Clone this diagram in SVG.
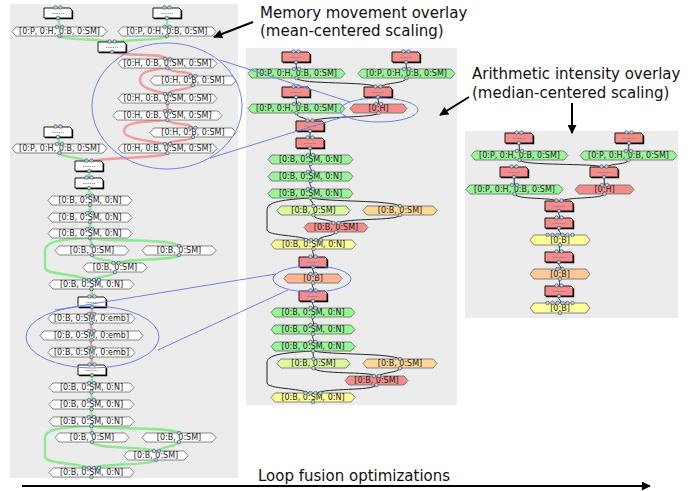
<svg xmlns="http://www.w3.org/2000/svg" xmlns:xlink="http://www.w3.org/1999/xlink" width="694" height="491" viewBox="0 0 694 491">
<style>
.panel{fill:#ececec}
.a{stroke:#6a6a6a;stroke-width:.8}
.w{fill:#fff}.g{fill:#98f598}.r{fill:#f48c8c}.y{fill:#ffff99}.lg{fill:#dcf9a0}.o{fill:#ffd796}.p{fill:#ffb496}.o2{fill:#ffc896}
.mw{fill:#fff;stroke:#000;stroke-width:.9}
.mr{fill:#f48c8c;stroke:#000;stroke-width:.9}
.t{font-family:"DejaVu Sans",sans-serif;font-size:8px;text-anchor:middle;fill:#222}
.lbl{font-family:"DejaVu Sans",sans-serif;font-size:15px;fill:#111}
.eg{fill:none;stroke:#8fe88f;stroke-width:2.4}
.es{fill:none;stroke:#f59a9a;stroke-width:2.4}
.ek{fill:none;stroke:#111;stroke-width:.9}
.bl{fill:none;stroke:#6f82e6;stroke-width:1}
.c{fill:#b9cad6;stroke:#34495e;stroke-width:.6}
.ar{fill:none;stroke:#000;stroke-width:2}
</style>
<defs>
<marker id="ah" viewBox="0 0 10 10" refX="9" refY="5" markerUnits="userSpaceOnUse" markerWidth="12" markerHeight="9" orient="auto"><path d="M0,0L10,5L0,10Z" fill="#000"/></marker>
<marker id="ah2" viewBox="0 0 10 10" refX="9" refY="5" markerUnits="userSpaceOnUse" markerWidth="15" markerHeight="9" orient="auto"><path d="M0,0L10,5L0,10Z" fill="#000"/></marker>
<g id="mp">
<path d="M0,0H26L28,2V10H0Z"/>
<path d="M1,10.6H28.6V2.5" fill="none" stroke="#000" stroke-width="1.2"/>
<path d="M8,5.5H20" stroke="#777" stroke-width=".7" stroke-dasharray="1.5 .7"/>
<circle class="c" cx="11.5" cy="-0.5" r="1.8"/>
<circle class="c" cx="16.5" cy="-0.5" r="1.8"/>
<circle class="c" cx="14" cy="10" r="1.8"/>
</g>
<g id="t2"><circle class="c" cx="-2.5" cy="0" r="1.8"/><circle class="c" cx="2.5" cy="0" r="1.8"/></g>
<g id="t4"><circle class="c" cx="-7.5" cy="0" r="1.8"/><circle class="c" cx="-2.5" cy="0" r="1.8"/><circle class="c" cx="2.5" cy="0" r="1.8"/><circle class="c" cx="7.5" cy="0" r="1.8"/></g>
<g id="t6"><circle class="c" cx="-12.5" cy="0" r="1.8"/><circle class="c" cx="-7.5" cy="0" r="1.8"/><circle class="c" cx="-2.5" cy="0" r="1.8"/><circle class="c" cx="2.5" cy="0" r="1.8"/><circle class="c" cx="7.5" cy="0" r="1.8"/><circle class="c" cx="12.5" cy="0" r="1.8"/></g>
<circle id="b1" class="c" r="1.8"/>
</defs>

<g id="panels">
<rect class="panel" x="10" y="4" width="228" height="474"/>
<rect class="panel" x="246" y="48" width="211" height="357"/>
<rect class="panel" x="465" y="131" width="213" height="187"/>
</g>

<g id="connectors">
<path class="eg" d="M58,18C58,22 60,23 59.5,27"/>
<path class="eg" d="M167,18C167,22 167,23 167,27"/>
<path class="eg" d="M59.5,36C64,41 100,38 110,42"/>
<path class="eg" d="M167,36C164,41 125,39 114,42"/>
<path class="es" d="M112,52C126,57 160,52 167.5,59"/>
<path class="es" d="M167.5,68C171,74 190,70 193,76"/>
<path class="es" d="M167.5,68C146,70 140,73 140,80C140,88 152,90 167.5,94"/>
<path class="es" d="M193,85C190,91 171,88 167.5,94"/>
<path class="es" d="M167.5,103V111"/>
<path class="es" d="M167.5,120C172,126 190,122 193,128"/>
<path class="es" d="M167.5,120C132,122 124,124 124,131C124,138 142,140 167.5,144"/>
<path class="es" d="M193,137C190,142 171,139 167.5,144"/>
<path class="eg" d="M58,137C58,140 60,141 59.5,144"/>
<path class="eg" d="M59.5,153C63,158 80,157 87,161"/>
<path class="es" d="M167.5,153C165,158 110,157 91,161"/>
<path class="eg" d="M89,171V178"/>
<path class="eg" d="M89,188C89,192 90,193 90,196"/>
<path class="eg" d="M90,205V213"/>
<path class="eg" d="M90,222V229"/>
<path class="eg" d="M90,238C90,242 92,242 92,246"/>
<path class="eg" d="M90,238C102,242 170,238 179,246"/>
<path class="eg" d="M90,238C58,239 46,242 45,250V268C46,275 80,274 89,280"/>
<path class="eg" d="M92,255C95,262 110,258 115,263"/>
<path class="eg" d="M179,255C177,261 125,258 117,263"/>
<path class="eg" d="M115,272C112,278 96,275 93,280"/>
<path class="eg" d="M91.5,289C91.5,293 92,293 92,297"/>
<path class="es" d="M92,307C92,310 91.5,311 91.5,314"/>
<path class="es" d="M91.5,323C89,327 93,328 91.5,331"/>
<path class="es" d="M91.5,340C89,344 93,345 91.5,348"/>
<path class="es" d="M91.5,357C91.5,361 92,361 92,365"/>
<path class="eg" d="M92,375C92,379 91.5,379 91.5,383"/>
<path class="eg" d="M91.5,392C89,396 94,397 91.5,400"/>
<path class="eg" d="M91.5,409C89,413 94,414 91.5,417"/>
<path class="eg" d="M91.5,426C91.5,430 92,430 92,433"/>
<path class="eg" d="M91.5,426C104,430 170,426 179,433"/>
<path class="eg" d="M91.5,426C58,427 46,430 45,437V457C46,464 80,463 89,468"/>
<path class="eg" d="M92,442C96,450 150,446 155,451"/>
<path class="eg" d="M179,442C177,447 162,446 158,451"/>
<path class="eg" d="M156,460C150,466 100,463 93,468"/>

<path class="ek" d="M296,62C296,65 296.5,66 296.5,69"/>
<path class="ek" d="M406,62C406,65 406.5,66 406.5,69"/>
<path class="ek" d="M296.5,78C300,85 370,81 376,87"/>
<path class="ek" d="M406.5,78C405,84 386,82 380,87"/>
<path class="ek" d="M296,97C296,100 296.5,101 296.5,104"/>
<path class="ek" d="M378,97C378,100 378.5,101 378.5,104"/>
<path class="ek" d="M296.5,113C298,119 304,116 308,121"/>
<path class="ek" d="M378.5,113C375,118 322,116 312,121"/>
<path class="ek" d="M310,131V138"/>
<path class="ek" d="M310,148C310,151 310.5,152 310.5,155"/>
<path class="ek" d="M310.5,164C308,168 313,169 310.5,172"/>
<path class="ek" d="M310.5,181C308,185 313,186 310.5,189"/>
<path class="ek" d="M310.5,198C310.5,202 313.5,202 313.5,206"/>
<path class="ek" d="M310.5,198C330,202 390,200 400,206"/>
<path class="ek" d="M310.5,198C276,200 267,203 267,210V230C268,236 300,235 309,240"/>
<path class="ek" d="M313.5,215C316,221 328,218 334,223"/>
<path class="ek" d="M400,215C398,221 346,218 338,223"/>
<path class="ek" d="M336,232C333,237 322,235 318,240"/>
<path class="ek" d="M313.5,249C311,253 315,254 313,257"/>
<path class="ek" d="M313,267C311,270 315,271 313,274"/>
<path class="ek" d="M313,283C311,287 315,288 313,291"/>
<path class="ek" d="M313,301C311,304 315,305 313,308"/>
<path class="ek" d="M313,317C311,321 315,322 313,325"/>
<path class="ek" d="M313,334C311,338 315,339 313,342"/>
<path class="ek" d="M313,351C313,355 313.5,355 313.5,359"/>
<path class="ek" d="M313,351C333,355 390,353 400,359"/>
<path class="ek" d="M313,351C276,353 267,356 267,363V383C268,389 300,388 309,393"/>
<path class="ek" d="M313.5,368C318,375 370,371 375,376"/>
<path class="ek" d="M400,368C398,373 384,372 378,376"/>
<path class="ek" d="M376.5,385C372,391 326,388 317,393"/>

<path class="ek" d="M519,143C519,146 519.5,148 519.5,151"/>
<path class="ek" d="M629,143C629,146 628.5,148 628.5,151"/>
<path class="ek" d="M519.5,160C523,166 595,163 602,167"/>
<path class="ek" d="M628.5,160C627,165 612,163 606,167"/>
<path class="ek" d="M514,177C514,180 514.5,182 514.5,185"/>
<path class="ek" d="M604,177C604,180 604.5,182 604.5,185"/>
<path class="ek" d="M514.5,194C518,200 550,197 557,201"/>
<path class="ek" d="M604.5,194C602,199 567,197 561,201"/>
<path class="ek" d="M559,211C557,214 561,215 559,218"/>
<path class="ek" d="M559,228C557,231 562,232 560,235"/>
<path class="ek" d="M560,245C558,248 561,249 559,252"/>
<path class="ek" d="M559,262C557,265 562,266 560,269"/>
<path class="ek" d="M560,279C558,282 561,283 559,286"/>
<path class="ek" d="M559,296C557,299 562,300 560,303"/>
</g>

<!-- left panel nodes -->
<g id="l-m1"><use href="#mp" class="mw" x="44" y="8"/></g>
<g id="l-m2"><use href="#mp" class="mw" x="153" y="8"/></g>
<g id="l-a1"><path class="a w" d="M16,27H103L107,31.5L103,36H16L12,31.5Z"/><text class="t" x="59.5" y="34.4">[0:P, 0:H, 0:B, 0:SM]</text><use href="#t2" x="59.5" y="27"/><use href="#b1" x="59.5" y="36"/></g>
<g id="l-a2"><path class="a w" d="M122,27H212L216,31.5L212,36H122L118,31.5Z"/><text class="t" x="167" y="34.4">[0:P, 0:H, 0:B, 0:SM]</text><use href="#t2" x="167" y="27"/><use href="#b1" x="167" y="36"/></g>
<g id="l-m3"><use href="#mp" class="mw" x="98" y="42"/></g>
<g id="l-r1"><path class="a w" d="M122,59H213L217,63.5L213,68H122L118,63.5Z"/><text class="t" x="167.5" y="66.4">[0:H, 0:B, 0:SM, 0:SM]</text><use href="#t2" x="167.5" y="59"/><use href="#b1" x="167.5" y="68"/></g>
<g id="l-r2"><path class="a w" d="M154,76H232L236,80.5L232,85H154L150,80.5Z"/><text class="t" x="193" y="83.4">[0:H, 0:B, 0:SM]</text><use href="#t2" x="193" y="76"/><use href="#b1" x="193" y="85"/></g>
<g id="l-r3"><path class="a w" d="M122,94H213L217,98.5L213,103H122L118,98.5Z"/><text class="t" x="167.5" y="101.4">[0:H, 0:B, 0:SM, 0:SM]</text><use href="#t2" x="167.5" y="94"/><use href="#b1" x="167.5" y="103"/></g>
<g id="l-r4"><path class="a w" d="M117,111H218L222,115.5L218,120H117L113,115.5Z"/><text class="t" x="167.5" y="118.4">[0:H, 0:B, 0:SM, 0:SM]</text><use href="#t2" x="167.5" y="111"/><use href="#b1" x="167.5" y="120"/></g>
<g id="l-r5"><path class="a w" d="M154,128H232L236,132.5L232,137H154L150,132.5Z"/><text class="t" x="193" y="135.4">[0:H, 0:B, 0:SM]</text><use href="#t2" x="193" y="128"/><use href="#b1" x="193" y="137"/></g>
<g id="l-r6"><path class="a w" d="M122,144H213L217,148.5L213,153H122L118,148.5Z"/><text class="t" x="167.5" y="151.4">[0:H, 0:B, 0:SM, 0:SM]</text><use href="#t2" x="167.5" y="144"/><use href="#b1" x="167.5" y="153"/></g>
<g id="l-m4"><use href="#mp" class="mw" x="44" y="127"/></g>
<g id="l-a3"><path class="a w" d="M16,144H103L107,148.5L103,153H16L12,148.5Z"/><text class="t" x="59.5" y="151.4">[0:P, 0:H, 0:B, 0:SM]</text><use href="#t2" x="59.5" y="144"/><use href="#b1" x="59.5" y="153"/></g>
<g id="l-m5"><use href="#mp" class="mw" x="75" y="161"/></g>
<g id="l-m6"><use href="#mp" class="mw" x="75" y="178"/></g>
<g id="l-n1"><path class="a w" d="M52,196H128L132,200.5L128,205H52L48,200.5Z"/><text class="t" x="90" y="203.4">[0:B, 0:SM, 0:N]</text><use href="#t2" x="90" y="196"/><use href="#b1" x="90" y="205"/></g>
<g id="l-n2"><path class="a w" d="M52,213H128L132,217.5L128,222H52L48,217.5Z"/><text class="t" x="90" y="220.4">[0:B, 0:SM, 0:N]</text><use href="#t2" x="90" y="213"/><use href="#b1" x="90" y="222"/></g>
<g id="l-n3"><path class="a w" d="M52,229H128L132,233.5L128,238H52L48,233.5Z"/><text class="t" x="90" y="236.4">[0:B, 0:SM, 0:N]</text><use href="#t2" x="90" y="229"/><use href="#b1" x="90" y="238"/></g>
<g id="l-s1"><path class="a w" d="M59,246H125L129,250.5L125,255H59L55,250.5Z"/><text class="t" x="92" y="253.4">[0:B, 0:SM]</text><use href="#b1" x="92" y="246"/><use href="#b1" x="92" y="255"/></g>
<g id="l-s2"><path class="a w" d="M146,246H212L216,250.5L212,255H146L142,250.5Z"/><text class="t" x="179" y="253.4">[0:B, 0:SM]</text><use href="#b1" x="179" y="246"/><use href="#b1" x="179" y="255"/></g>
<g id="l-s3"><path class="a w" d="M87,263H143L147,267.5L143,272H87L83,267.5Z"/><text class="t" x="115" y="270.4">[0:B, 0:SM]</text><use href="#t2" x="116" y="263"/><use href="#b1" x="115" y="272"/></g>
<g id="l-n4"><path class="a w" d="M53,280H130L134,284.5L130,289H53L49,284.5Z"/><text class="t" x="91.5" y="287.4">[0:B, 0:SM, 0:N]</text><use href="#t4" x="91.5" y="280"/><use href="#b1" x="91.5" y="289"/></g>
<g id="l-m7"><use href="#mp" class="mw" x="78" y="297"/></g>
<g id="l-e1"><path class="a w" d="M52,314H131L135,318.5L131,323H52L48,318.5Z"/><text class="t" x="91.5" y="321.4">[0:B, 0:SM, 0:emb]</text><use href="#t2" x="91.5" y="314"/><use href="#b1" x="91.5" y="323"/></g>
<g id="l-e2"><path class="a w" d="M44,331H139L143,335.5L139,340H44L40,335.5Z"/><text class="t" x="91.5" y="338.4">[0:B, 0:SM, 0:emb]</text><use href="#t2" x="91.5" y="331"/><use href="#b1" x="91.5" y="340"/></g>
<g id="l-e3"><path class="a w" d="M52,348H131L135,352.5L131,357H52L48,352.5Z"/><text class="t" x="91.5" y="355.4">[0:B, 0:SM, 0:emb]</text><use href="#t2" x="91.5" y="348"/><use href="#b1" x="91.5" y="357"/></g>
<g id="l-m8"><use href="#mp" class="mw" x="78" y="365"/></g>
<g id="l-n5"><path class="a w" d="M53,383H130L134,387.5L130,392H53L49,387.5Z"/><text class="t" x="91.5" y="390.4">[0:B, 0:SM, 0:N]</text><use href="#t2" x="91.5" y="383"/><use href="#b1" x="91.5" y="392"/></g>
<g id="l-n6"><path class="a w" d="M53,400H130L134,404.5L130,409H53L49,404.5Z"/><text class="t" x="91.5" y="407.4">[0:B, 0:SM, 0:N]</text><use href="#t2" x="91.5" y="400"/><use href="#b1" x="91.5" y="409"/></g>
<g id="l-n7"><path class="a w" d="M53,417H130L134,421.5L130,426H53L49,421.5Z"/><text class="t" x="91.5" y="424.4">[0:B, 0:SM, 0:N]</text><use href="#t2" x="91.5" y="417"/><use href="#b1" x="91.5" y="426"/></g>
<g id="l-s4"><path class="a w" d="M59,433H125L129,437.5L125,442H59L55,437.5Z"/><text class="t" x="92" y="440.4">[0:B, 0:SM]</text><use href="#b1" x="92" y="433"/><use href="#b1" x="92" y="442"/></g>
<g id="l-s5"><path class="a w" d="M146,433H212L216,437.5L212,442H146L142,437.5Z"/><text class="t" x="179" y="440.4">[0:B, 0:SM]</text><use href="#b1" x="179" y="433"/><use href="#b1" x="179" y="442"/></g>
<g id="l-s6"><path class="a w" d="M128,451H184L188,455.5L184,460H128L124,455.5Z"/><text class="t" x="156" y="458.4">[0:B, 0:SM]</text><use href="#t2" x="156.5" y="451"/><use href="#b1" x="156" y="460"/></g>
<g id="l-n8"><path class="a w" d="M53,468H130L134,472.5L130,477H53L49,472.5Z"/><text class="t" x="91.5" y="475.4">[0:B, 0:SM, 0:N]</text><use href="#t4" x="91.5" y="468"/><use href="#b1" x="91.5" y="477"/></g>

<!-- middle panel nodes -->
<g id="m-m1"><use href="#mp" class="mr" x="282" y="52"/></g>
<g id="m-m2"><use href="#mp" class="mr" x="392" y="52"/></g>
<g id="m-a1"><path class="a g" d="M252,69H341L345,73.5L341,78H252L248,73.5Z"/><text class="t" x="296.5" y="76.4">[0:P, 0:H, 0:B, 0:SM]</text><use href="#t2" x="296.5" y="69"/><use href="#b1" x="296.5" y="78"/></g>
<g id="m-a2"><path class="a g" d="M362,69H451L455,73.5L451,78H362L358,73.5Z"/><text class="t" x="406.5" y="76.4">[0:P, 0:H, 0:B, 0:SM]</text><use href="#t2" x="406.5" y="69"/><use href="#b1" x="406.5" y="78"/></g>
<g id="m-m3"><use href="#mp" class="mr" x="282" y="87"/></g>
<g id="m-m4"><use href="#mp" class="mr" x="364" y="87"/></g>
<g id="m-a3"><path class="a g" d="M252,104H341L345,108.5L341,113H252L248,108.5Z"/><text class="t" x="296.5" y="111.4">[0:P, 0:H, 0:B, 0:SM]</text><use href="#t2" x="296.5" y="104"/><use href="#b1" x="296.5" y="113"/></g>
<g id="m-a4"><path class="a r" d="M354,104H403L407,108.5L403,113H354L350,108.5Z"/><text class="t" x="378.5" y="111.4">[0:H]</text><use href="#t2" x="378.5" y="104"/><use href="#b1" x="378.5" y="113"/></g>
<g id="m-m5"><use href="#mp" class="mr" x="296" y="121"/></g>
<g id="m-m6"><use href="#mp" class="mr" x="296" y="138"/></g>
<g id="m-n1"><path class="a g" d="M272,155H349L353,159.5L349,164H272L268,159.5Z"/><text class="t" x="310.5" y="162.4">[0:B, 0:SM, 0:N]</text><use href="#t2" x="310.5" y="155"/><use href="#b1" x="310.5" y="164"/></g>
<g id="m-n2"><path class="a g" d="M272,172H349L353,176.5L349,181H272L268,176.5Z"/><text class="t" x="310.5" y="179.4">[0:B, 0:SM, 0:N]</text><use href="#t2" x="310.5" y="172"/><use href="#b1" x="310.5" y="181"/></g>
<g id="m-n3"><path class="a g" d="M272,189H349L353,193.5L349,198H272L268,193.5Z"/><text class="t" x="310.5" y="196.4">[0:B, 0:SM, 0:N]</text><use href="#t2" x="310.5" y="189"/><use href="#b1" x="310.5" y="198"/></g>
<g id="m-s1"><path class="a lg" d="M281,206H346L350,210.5L346,215H281L277,210.5Z"/><text class="t" x="313.5" y="213.4">[0:B, 0:SM]</text><use href="#b1" x="313.5" y="206"/><use href="#b1" x="313.5" y="215"/></g>
<g id="m-s2"><path class="a o" d="M367,206H433L437,210.5L433,215H367L363,210.5Z"/><text class="t" x="400" y="213.4">[0:B, 0:SM]</text><use href="#b1" x="400" y="206"/><use href="#b1" x="400" y="215"/></g>
<g id="m-s3"><path class="a r" d="M308,223H364L368,227.5L364,232H308L304,227.5Z"/><text class="t" x="336" y="230.4">[0:B, 0:SM]</text><use href="#t2" x="336" y="223"/><use href="#b1" x="336" y="232"/></g>
<g id="m-n4"><path class="a y" d="M275,240H352L356,244.5L352,249H275L271,244.5Z"/><text class="t" x="313.5" y="247.4">[0:B, 0:SM, 0:N]</text><use href="#t4" x="313.5" y="240"/><use href="#b1" x="313.5" y="249"/></g>
<g id="m-m7"><use href="#mp" class="mr" x="299" y="257"/></g>
<g id="m-b1"><path class="a p" d="M288,274H338L342,278.5L338,283H288L284,278.5Z"/><text class="t" x="313" y="281.4">[0:B]</text><use href="#t2" x="313" y="274"/><use href="#b1" x="313" y="283"/></g>
<g id="m-m8"><use href="#mp" class="mr" x="299" y="291"/></g>
<g id="m-n5"><path class="a g" d="M275,308H351L355,312.5L351,317H275L271,312.5Z"/><text class="t" x="313" y="315.4">[0:B, 0:SM, 0:N]</text><use href="#t2" x="313" y="308"/><use href="#b1" x="313" y="317"/></g>
<g id="m-n6"><path class="a g" d="M275,325H351L355,329.5L351,334H275L271,329.5Z"/><text class="t" x="313" y="332.4">[0:B, 0:SM, 0:N]</text><use href="#t2" x="313" y="325"/><use href="#b1" x="313" y="334"/></g>
<g id="m-n7"><path class="a g" d="M275,342H351L355,346.5L351,351H275L271,346.5Z"/><text class="t" x="313" y="349.4">[0:B, 0:SM, 0:N]</text><use href="#t2" x="313" y="342"/><use href="#b1" x="313" y="351"/></g>
<g id="m-s4"><path class="a lg" d="M281,359H346L350,363.5L346,368H281L277,363.5Z"/><text class="t" x="313.5" y="366.4">[0:B, 0:SM]</text><use href="#b1" x="313.5" y="359"/><use href="#b1" x="313.5" y="368"/></g>
<g id="m-s5"><path class="a o" d="M367,359H433L437,363.5L433,368H367L363,363.5Z"/><text class="t" x="400" y="366.4">[0:B, 0:SM]</text><use href="#b1" x="400" y="359"/><use href="#b1" x="400" y="368"/></g>
<g id="m-s6"><path class="a r" d="M349,376H404L408,380.5L404,385H349L345,380.5Z"/><text class="t" x="376.5" y="383.4">[0:B, 0:SM]</text><use href="#t2" x="376.5" y="376"/><use href="#b1" x="376.5" y="385"/></g>
<g id="m-n8"><path class="a y" d="M275,393H351L355,397.5L351,402H275L271,397.5Z"/><text class="t" x="313" y="400.4">[0:B, 0:SM, 0:N]</text><use href="#t4" x="313" y="393"/><use href="#b1" x="313" y="402"/></g>

<!-- right panel nodes -->
<g id="r-m1"><use href="#mp" class="mr" x="505" y="133"/></g>
<g id="r-m2"><use href="#mp" class="mr" x="615" y="133"/></g>
<g id="r-a1"><path class="a g" d="M475,151H564L568,155.5L564,160H475L471,155.5Z"/><text class="t" x="519.5" y="158.4">[0:P, 0:H, 0:B, 0:SM]</text><use href="#t2" x="519.5" y="151"/><use href="#b1" x="519.5" y="160"/></g>
<g id="r-a2"><path class="a g" d="M584,151H673L677,155.5L673,160H584L580,155.5Z"/><text class="t" x="628.5" y="158.4">[0:P, 0:H, 0:B, 0:SM]</text><use href="#t2" x="628.5" y="151"/><use href="#b1" x="628.5" y="160"/></g>
<g id="r-m3"><use href="#mp" class="mr" x="500" y="167"/></g>
<g id="r-m4"><use href="#mp" class="mr" x="590" y="167"/></g>
<g id="r-a3"><path class="a g" d="M470,185H559L563,189.5L559,194H470L466,189.5Z"/><text class="t" x="514.5" y="192.4">[0:P, 0:H, 0:B, 0:SM]</text><use href="#t2" x="514.5" y="185"/><use href="#b1" x="514.5" y="194"/></g>
<g id="r-a4"><path class="a r" d="M579,185H630L634,189.5L630,194H579L575,189.5Z"/><text class="t" x="604.5" y="192.4">[0:H]</text><use href="#t2" x="604.5" y="185"/><use href="#b1" x="604.5" y="194"/></g>
<g id="r-m5"><use href="#mp" class="mr" x="545" y="201"/></g>
<g id="r-m6"><use href="#mp" class="mr" x="545" y="218"/></g>
<g id="r-b1"><path class="a y" d="M534,235H586L590,240L586,245H534L530,240Z"/><text class="t" x="560" y="242.9">[0:B]</text><use href="#t6" x="560" y="235"/><use href="#b1" x="560" y="245"/></g>
<g id="r-m7"><use href="#mp" class="mr" x="545" y="252"/></g>
<g id="r-b2"><path class="a o2" d="M534,269H586L590,274L586,279H534L530,274Z"/><text class="t" x="560" y="276.9">[0:B]</text><use href="#t2" x="560" y="269"/><use href="#b1" x="560" y="279"/></g>
<g id="r-m8"><use href="#mp" class="mr" x="545" y="286"/></g>
<g id="r-b3"><path class="a y" d="M534,303H586L590,308L586,313H534L530,308Z"/><text class="t" x="560" y="310.9">[0:B]</text><use href="#t6" x="560" y="303"/><use href="#b1" x="560" y="313"/></g>

<g id="overlay">
<ellipse class="bl" cx="167" cy="106" rx="75" ry="63"/>
<ellipse class="bl" cx="379" cy="110" rx="39" ry="12"/>
<ellipse class="bl" cx="92.5" cy="337" rx="66.5" ry="31"/>
<ellipse class="bl" cx="312" cy="279" rx="39" ry="13"/>
<path class="bl" d="M220,60L350,102"/>
<path class="bl" d="M210,158L346,116"/>
<path class="bl" d="M55,310L276,274"/>
<path class="bl" d="M158,350L288,290"/>
</g>

<g id="annotations">
<text class="lbl" x="260" y="17.7">Memory movement overlay</text>
<text class="lbl" x="260" y="35.5">(mean-centered scaling)</text>
<path class="ar" d="M253,22L214,37" marker-end="url(#ah)"/>
<text class="lbl" x="472" y="79">Arithmetic intensity overlay</text>
<text class="lbl" x="472" y="97.5">(median-centered scaling)</text>
<path class="ar" d="M469,97L440,115" marker-end="url(#ah)"/>
<path class="ar" d="M572,103V133" marker-end="url(#ah)"/>
<text class="lbl" x="258" y="481">Loop fusion optimizations</text>
<path class="ar" d="M22,486H650" marker-end="url(#ah2)"/>
</g>
</svg>
